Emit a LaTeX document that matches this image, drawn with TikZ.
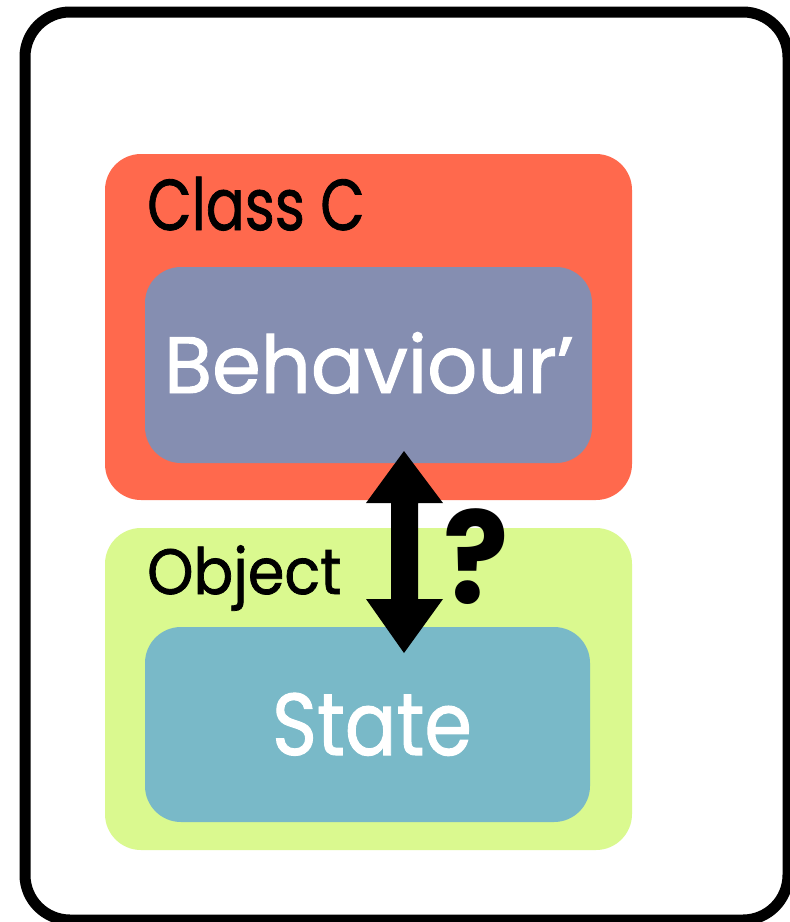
\documentclass[tikz,border=0pt]{standalone}
\usepackage{fontspec}
\setmainfont{Poppins}
\newfontface\medface{Poppins}[FakeBold=1.2]
\definecolor{cred}{RGB}{255,105,77}
\definecolor{cpurple}{RGB}{133,142,177}
\definecolor{cgreen}{RGB}{218,249,143}
\definecolor{cteal}{RGB}{121,185,200}
\begin{document}
\begin{tikzpicture}[x=1pt,y=-1pt,
  box/.style={rounded corners=36pt, inner sep=0pt, draw=none},
  lbl/.style={inner sep=0pt, anchor=base west},
  big/.style={inner sep=0pt, anchor=base, text=white}]
\useasboundingbox (0,0) rectangle (790,922);
\fill[white] (0,0) rectangle (790,922);
\draw[line width=11pt, rounded corners=45pt] (25,12) rectangle (788,920);
\node[box, fill=cred, minimum width=527pt, minimum height=346pt] (classc) at (368.5,327) {};
\node[box, fill=cpurple, minimum width=447pt, minimum height=196pt] (beh) at (368.5,365) {};
\node[box, fill=cgreen, minimum width=527pt, minimum height=322pt] (obj) at (368.5,689) {};
\node[box, fill=cteal, minimum width=445pt, minimum height=195pt] (state) at (367.5,724.5) {};
\node[lbl, font=\medface\fontsize{72}{80}\selectfont] (tclass) at (147,230) {\scalebox{0.8}[1]{Class C}};
\node[big, font=\medface\fontsize{80}{90}\selectfont] (tbeh) at (369,393) {\scalebox{0.98}[1]{Behaviour’}};
\node[lbl, font=\medface\fontsize{64}{70}\selectfont] (tobj) at (147,594) {\scalebox{0.92}[1]{Object}};
\node[big, font=\medface\fontsize{88}{96}\selectfont] (tstate) at (372,755) {\scalebox{0.87}[1]{State}};
\coordinate (top) at (404,451);
\coordinate (bot) at (404,653);
\fill (top) -- (443,503) -- (418,503) -- (418,599) -- (443,599) -- (bot)
  -- (366,599) -- (391,599) -- (391,503) -- (366,503) -- cycle;
\node[inner sep=0pt, anchor=base, font=\bfseries\fontsize{128}{130}\selectfont] (q) at (476,603) {\scalebox{0.95}[1]{?}};
\end{tikzpicture}
\end{document}
